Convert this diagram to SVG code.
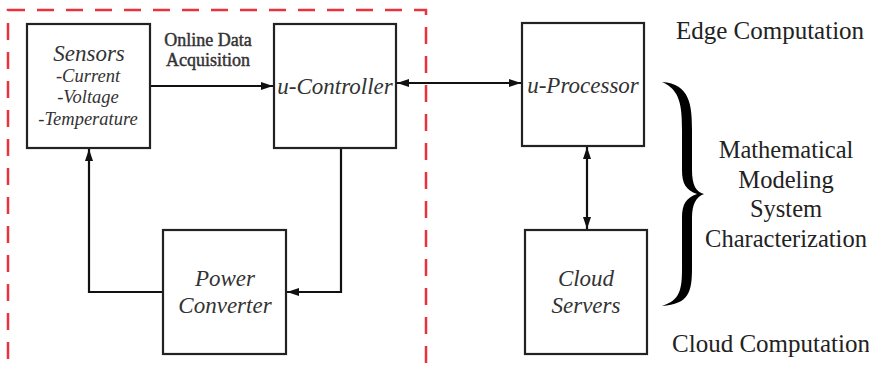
<svg xmlns="http://www.w3.org/2000/svg" width="869" height="366" viewBox="0 0 869 366">
<style>
.box{fill:#fff;stroke:#222;stroke-width:2.2}
.ln{fill:none;stroke:#111;stroke-width:2.2}
.it{font-family:"Liberation Serif","Times New Roman",serif;font-style:italic;fill:#333;text-anchor:middle}
.rg{font-family:"Liberation Serif","Times New Roman",serif;fill:#222;text-anchor:middle}
.lb{font-family:"Liberation Serif","Times New Roman",serif;fill:#333;stroke:#333;stroke-width:0.45;text-anchor:middle}
</style>
<defs>
<marker id="ah" viewBox="0 0 12 8" refX="12" refY="4" markerWidth="12" markerHeight="8" markerUnits="userSpaceOnUse" orient="auto-start-reverse">
<path d="M0,0 L12,4 L0,8 Z" fill="#111"/>
</marker>
</defs>
<rect width="869" height="366" fill="#fff"/>
<rect x="8" y="10" width="418" height="380" fill="none" stroke="#e8333c" stroke-width="2.5" stroke-dasharray="17 12"/>
<g id="connectors">
<path class="ln" d="M150,86 L273,86" marker-end="url(#ah)"/>
<path class="ln" d="M397,83 L521,83" marker-start="url(#ah)" marker-end="url(#ah)"/>
<path class="ln" d="M587,147 L587,229" marker-start="url(#ah)" marker-end="url(#ah)"/>
<path class="ln" d="M341,148 L341,292 L287,292" marker-end="url(#ah)"/>
<path class="ln" d="M163,292 L89,292 L89,149" marker-end="url(#ah)"/>
</g>
<g id="sensors">
<rect class="box" x="27" y="24" width="123" height="124"/>
<text class="it" x="89" y="61" font-size="23">Sensors</text>
<text class="it" x="88" y="82" font-size="18.5">-Current</text>
<text class="it" x="88" y="103" font-size="18.5">-Voltage</text>
<text class="it" x="88" y="125" font-size="18.5">-Temperature</text>
</g>
<g id="label-online">
<text class="lb" x="208" y="46" font-size="18">Online Data</text>
<text class="lb" x="208" y="66" font-size="18">Acquisition</text>
</g>
<g id="controller">
<rect class="box" x="274" y="24" width="122" height="124"/>
<text class="it" x="335" y="94" font-size="23">u-Controller</text>
</g>
<g id="processor">
<rect class="box" x="522" y="23" width="122" height="123"/>
<text class="it" x="583" y="93" font-size="23">u-Processor</text>
</g>
<g id="cloud">
<rect class="box" x="525" y="230" width="122" height="124"/>
<text class="it" x="586" y="286" font-size="23">Cloud</text>
<text class="it" x="586" y="313" font-size="23">Servers</text>
</g>
<g id="power">
<rect class="box" x="163" y="230" width="123" height="124"/>
<text class="it" x="225" y="286" font-size="23">Power</text>
<text class="it" x="225" y="313" font-size="23">Converter</text>
</g>
<g id="brace">
<path fill="#000" d="M662,82 C690,84 692,105 692,130 L692,170 C692,185 696,192 704,194 C696,197 692,204 692,218 L692,268 C692,292 689,304 662,306 C680,300 682,290 682,268 L682,218 C682,204 686,198 697,194 C686,190 682,184 682,170 L682,130 C682,105 680,90 662,82 Z"/>
</g>
<g id="labels">
<text class="rg" x="770" y="39" font-size="25">Edge Computation</text>
<text class="rg" x="786" y="158" font-size="24.5">Mathematical</text>
<text class="rg" x="786" y="188" font-size="24.5">Modeling</text>
<text class="rg" x="786" y="217" font-size="24.5">System</text>
<text class="rg" x="786" y="247" font-size="24.5">Characterization</text>
<text class="rg" x="771" y="352" font-size="25">Cloud Computation</text>
</g>
</svg>
